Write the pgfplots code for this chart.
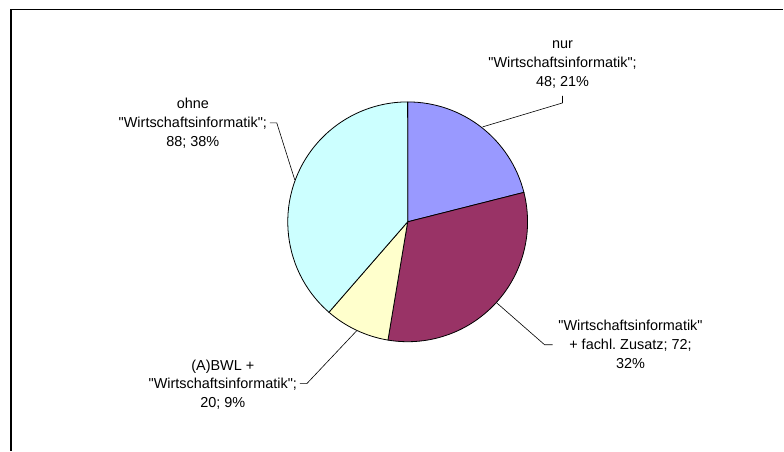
\documentclass[border=0pt]{standalone}
\usepackage{pgfplots}
\pgfplotsset{compat=1.18}
\usepackage{fontspec}
\setmainfont{Liberation Sans}
\frenchspacing

\definecolor{sliceA}{HTML}{9999FF}
\definecolor{sliceB}{HTML}{993366}
\definecolor{sliceC}{HTML}{FFFFCC}
\definecolor{sliceD}{HTML}{CCFFFF}

% slice values (clockwise from 12 o'clock)
\def\vA{48}
\def\vB{72}
\def\vC{20}
\def\vD{88}
\newcommand{\q}{\textquotedbl}

\begin{document}
\begin{tikzpicture}[lbl/.style={font=\fontsize{14.5}{19}\selectfont, align=center, inner sep=0pt}]
\pgfmathsetmacro\tot{\vA+\vB+\vC+\vD}
\pgfmathsetmacro\aA{90}
\pgfmathsetmacro\aB{\aA-\vA/\tot*360}
\pgfmathsetmacro\aC{\aB-\vB/\tot*360}
\pgfmathsetmacro\aD{\aC-\vC/\tot*360}
\pgfmathsetmacro\aE{\aD-\vD/\tot*360}
\begin{axis}[
    scale only axis,
    width=784bp, height=451bp,
    xmin=0, xmax=784, ymin=0, ymax=451,
    y dir=reverse,
    hide axis,
    clip=false,
]
% page extent
\addplot[draw=none] coordinates {(0,0) (784,451)};
% chart frame
\addplot[black, line width=1.3bp] coordinates {(11,451) (11,9.5) (784,9.5)};

% pie
\filldraw[fill=sliceA, draw=black, line width=0.8bp] (axis cs:408,222) -- ++(\aA:120bp) arc[start angle=\aA, end angle=\aB, radius=120bp] -- cycle;
\filldraw[fill=sliceB, draw=black, line width=0.8bp] (axis cs:408,222) -- ++(\aB:120bp) arc[start angle=\aB, end angle=\aC, radius=120bp] -- cycle;
\filldraw[fill=sliceC, draw=black, line width=0.8bp] (axis cs:408,222) -- ++(\aC:120bp) arc[start angle=\aC, end angle=\aD, radius=120bp] -- cycle;
\filldraw[fill=sliceD, draw=black, line width=0.8bp] (axis cs:408,222) -- ++(\aD:120bp) arc[start angle=\aD, end angle=\aE, radius=120bp] -- cycle;

% leader lines
\addplot[black, line width=0.6bp] coordinates {(563,96) (563,103) (483,127)};
\addplot[black, line width=0.6bp] coordinates {(553,345) (545,345) (497,303)};
\addplot[black, line width=0.6bp] coordinates {(300,384) (307,384) (357,331)};
\addplot[black, line width=0.6bp] coordinates {(270,123) (277,123) (295,180)};

% labels
\node[lbl] at (axis cs:563,65) {nur\\\q Wirtschaftsinformatik\q;\\48; 21\%};
\node[lbl] at (axis cs:631,345) {\q Wirtschaftsinformatik\q\\+ fachl. Zusatz; 72;\\32\%};
\node[lbl] at (axis cs:223,385) {(A)BWL +\\\q Wirtschaftsinformatik\q;\\20; 9\%};
\node[lbl] at (axis cs:193,123) {ohne\\\q Wirtschaftsinformatik\q;\\88; 38\%};
\end{axis}
\end{tikzpicture}
\end{document}
